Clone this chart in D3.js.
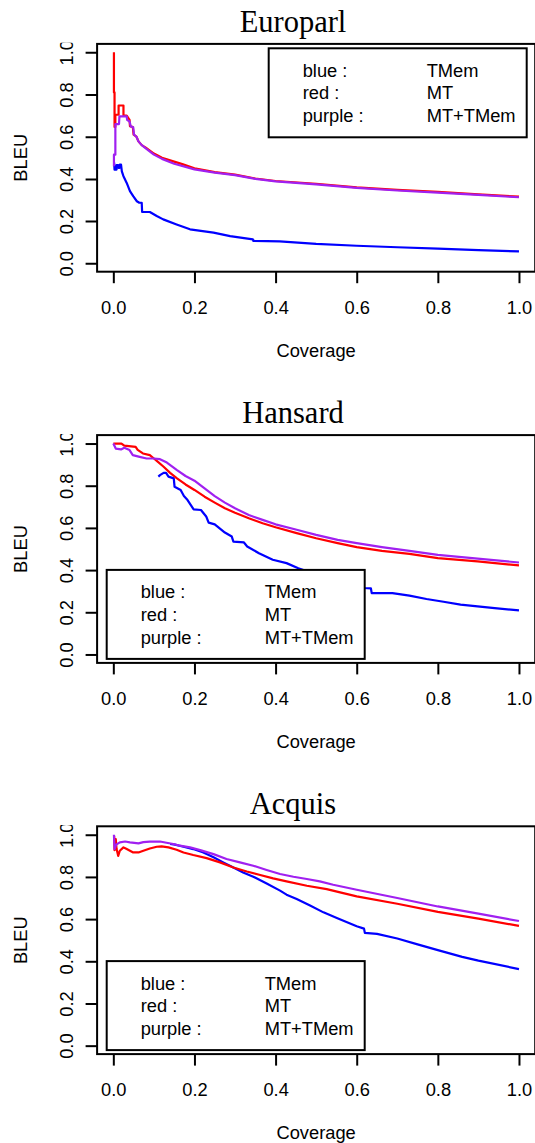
<!DOCTYPE html>
<meta charset="utf-8">
<html>
<head>
  <title>BLEU vs Coverage</title>
  <style>
    body { margin: 0; background: #fff; }
    svg { display: block; }
    .axis text, .lab, .legend text {
      font-family: 'Liberation Sans', Arial, Helvetica, sans-serif;
      font-size: 18.3px;
      fill: #000;
    }
    .title {
      font-family: 'Liberation Serif', 'Times New Roman', serif;
      font-size: 30.5px;
      fill: #000;
    }
    .line { fill: none; stroke-width: 2.2px; stroke-linejoin: round; }
  </style>
  <script src="https://d3js.org/d3.v7.min.js"></script>
</head>
<body>
  <svg width="535" height="1143"></svg>
  <script>
    // ---- data: [coverage, BLEU] ----
    var panelTitles = ["Europarl", "Hansard", "Acquis"];
    var xTicks = [0, 0.2, 0.4, 0.6, 0.8, 1.0];
    var yTicks = [0, 0.2, 0.4, 0.6, 0.8, 1.0];
    var legendNames = ["blue :", "red :", "purple :"];
    var legendSystems = ["TMem", "MT", "MT+TMem"];
    var seriesColors = ["#0000ff", "#ff0000", "#a020f0"];
    var legendCorner = ["topright", "bottomleft", "bottomleft"];

    var europarlTMem = [[0.0015,0.476],[0.002,0.476],[0.003,0.444],[0.008,0.444],[0.008,0.465],[0.012,0.465],[0.013,0.452],[0.015,0.452],[0.016,0.468],[0.019,0.468],[0.021,0.436],[0.025,0.413],[0.033,0.381],[0.041,0.342],[0.049,0.318],[0.058,0.294],[0.064,0.287],[0.070,0.287],[0.071,0.243],[0.09,0.243],[0.107,0.224],[0.123,0.208],[0.156,0.184],[0.189,0.161],[0.247,0.145],[0.288,0.129],[0.344,0.113],[0.345,0.106],[0.41,0.104],[0.5,0.092],[0.6,0.083],[0.7,0.076],[0.8,0.069],[0.9,0.062],[1.0,0.056]];
    var europarlMT = [[0.0015,1.0],[0.0015,0.81],[0.003,0.81],[0.003,0.646],[0.005,0.646],[0.005,0.704],[0.013,0.704],[0.013,0.748],[0.025,0.748],[0.025,0.70],[0.033,0.70],[0.040,0.68],[0.041,0.65],[0.048,0.646],[0.050,0.61],[0.057,0.60],[0.062,0.578],[0.07,0.56],[0.08,0.548],[0.1,0.52],[0.12,0.50],[0.15,0.482],[0.17,0.47],[0.2,0.45],[0.25,0.432],[0.3,0.42],[0.35,0.402],[0.4,0.39],[0.5,0.377],[0.6,0.36],[0.7,0.348],[0.8,0.338],[0.9,0.327],[1.0,0.316]];
    var europarlMix = [[0.0015,0.46],[0.0015,0.515],[0.005,0.515],[0.005,0.66],[0.014,0.66],[0.015,0.696],[0.033,0.696],[0.034,0.68],[0.040,0.672],[0.043,0.649],[0.049,0.645],[0.051,0.61],[0.057,0.60],[0.062,0.578],[0.07,0.56],[0.08,0.545],[0.1,0.515],[0.12,0.495],[0.15,0.472],[0.2,0.445],[0.25,0.43],[0.3,0.418],[0.35,0.40],[0.4,0.388],[0.5,0.374],[0.6,0.357],[0.7,0.345],[0.8,0.335],[0.9,0.324],[1.0,0.313]];

    var hansardTMem = [[0.111,0.843],[0.115,0.85],[0.124,0.861],[0.13,0.861],[0.136,0.843],[0.149,0.835],[0.151,0.795],[0.166,0.78],[0.174,0.751],[0.183,0.732],[0.198,0.688],[0.216,0.685],[0.229,0.654],[0.235,0.625],[0.25,0.617],[0.275,0.578],[0.292,0.559],[0.296,0.535],[0.322,0.531],[0.33,0.512],[0.359,0.48],[0.393,0.449],[0.427,0.433],[0.456,0.409],[0.5,0.38],[0.55,0.35],[0.6,0.32],[0.618,0.315],[0.635,0.313],[0.637,0.291],[0.688,0.291],[0.73,0.279],[0.772,0.263],[0.814,0.25],[0.856,0.236],[0.898,0.228],[0.94,0.22],[1.0,0.209]];
    var hansardMT = [[0,1.0],[0.02,1.0],[0.027,0.99],[0.055,0.984],[0.06,0.97],[0.073,0.953],[0.09,0.945],[0.1,0.929],[0.11,0.913],[0.124,0.89],[0.14,0.861],[0.157,0.835],[0.178,0.806],[0.2,0.78],[0.225,0.748],[0.25,0.72],[0.275,0.693],[0.3,0.672],[0.334,0.646],[0.368,0.622],[0.4,0.603],[0.452,0.575],[0.5,0.551],[0.553,0.528],[0.6,0.509],[0.662,0.491],[0.73,0.477],[0.8,0.457],[0.898,0.441],[1.0,0.422]];
    var hansardMix = [[0,1.0],[0.006,0.976],[0.019,0.972],[0.027,0.98],[0.04,0.969],[0.048,0.945],[0.065,0.937],[0.082,0.929],[0.1,0.929],[0.115,0.926],[0.132,0.91],[0.157,0.874],[0.178,0.846],[0.2,0.824],[0.225,0.787],[0.25,0.751],[0.275,0.72],[0.3,0.693],[0.334,0.661],[0.368,0.638],[0.4,0.617],[0.452,0.591],[0.5,0.567],[0.553,0.543],[0.6,0.528],[0.662,0.509],[0.73,0.491],[0.8,0.472],[0.898,0.454],[1.0,0.436]];

    var acquisTMem = [[0.14,0.956],[0.152,0.953],[0.173,0.943],[0.197,0.932],[0.222,0.916],[0.247,0.893],[0.271,0.869],[0.296,0.845],[0.32,0.821],[0.345,0.801],[0.378,0.769],[0.411,0.735],[0.427,0.716],[0.452,0.695],[0.485,0.664],[0.518,0.632],[0.551,0.605],[0.6,0.566],[0.618,0.555],[0.62,0.535],[0.65,0.53],[0.7,0.508],[0.75,0.48],[0.8,0.453],[0.86,0.421],[0.9,0.403],[1.0,0.363]];
    var acquisMT = [[0.002,0.995],[0.003,0.927],[0.006,0.979],[0.008,0.932],[0.012,0.90],[0.016,0.924],[0.025,0.94],[0.033,0.932],[0.041,0.924],[0.049,0.916],[0.062,0.916],[0.074,0.924],[0.09,0.935],[0.107,0.943],[0.119,0.945],[0.136,0.94],[0.156,0.929],[0.173,0.916],[0.197,0.904],[0.23,0.889],[0.263,0.869],[0.296,0.845],[0.329,0.826],[0.362,0.809],[0.394,0.793],[0.427,0.779],[0.477,0.758],[0.526,0.742],[0.559,0.727],[0.6,0.708],[0.7,0.673],[0.8,0.634],[0.9,0.602],[1.0,0.568]];
    var acquisMix = [[0.0015,1.0],[0.003,0.932],[0.007,0.953],[0.016,0.964],[0.029,0.968],[0.041,0.964],[0.062,0.959],[0.074,0.965],[0.09,0.967],[0.115,0.968],[0.131,0.962],[0.148,0.956],[0.164,0.948],[0.189,0.94],[0.214,0.927],[0.247,0.908],[0.279,0.885],[0.312,0.869],[0.345,0.853],[0.378,0.833],[0.411,0.814],[0.444,0.801],[0.477,0.79],[0.509,0.779],[0.542,0.763],[0.6,0.739],[0.7,0.70],[0.8,0.66],[0.9,0.626],[1.0,0.591]];

    // one entry per panel, series in drawing order: TMem, MT, MT+TMem
    var panelSeries = [
      [europarlTMem, europarlMT, europarlMix],
      [hansardTMem, hansardMT, hansardMix],
      [acquisTMem, acquisMT, acquisMix]
    ];

    // ---- layout (panel-local pixels) ----
    var panelH = 391.2;
    var box = {left: 97.1, right: 535.2, top: 43.9, bottom: 271.7};
    var legendW = 258, legendH = 89;

    var svg = d3.select("svg");

    // R style: data range padded by 4% on each side
    var x = d3.scaleLinear().domain([-0.04, 1.04]).range([box.left, box.right]);
    var y = d3.scaleLinear().domain([-0.04, 1.04]).range([box.bottom, box.top]);
    var fmt = d3.format(".1f");

    var line = d3.line()
      .x(function(d) { return x(d[0]); })
      .y(function(d) { return y(d[1]); });

    // clip so the top "1.0" label gets cut like in the original
    svg.append("defs").append("clipPath")
        .attr("id", "ylabclip")
      .append("rect")
        .attr("x", 0).attr("y", box.top - 1.2)
        .attr("width", box.left).attr("height", 400);

    panelTitles.forEach(function(title, p) {
      var g = svg.append("g")
          .attr("transform", "translate(0," + (p * panelH) + ")");

      // lines
      panelSeries[p].forEach(function(pts, i) {
        g.append("path")
          .attr("class", "line")
          .attr("d", line(pts))
          .style("stroke", seriesColors[i]);
      });

      // x axis
      var xa = g.append("g")
          .attr("class", "axis")
          .attr("transform", "translate(0," + box.bottom + ")")
          .call(d3.axisBottom(x).tickValues(xTicks).tickFormat(fmt).tickSizeInner(11.5).tickSizeOuter(0));
      xa.select(".domain").remove();
      xa.selectAll("line").attr("stroke", "#000").attr("stroke-width", 2);
      xa.selectAll("text").attr("y", 42.3).attr("dy", null);

      // y axis, labels rotated and clipped at top
      var yWrap = g.append("g").attr("clip-path", "url(#ylabclip)");
      var ya = yWrap.append("g")
          .attr("class", "axis")
          .attr("transform", "translate(" + box.left + ",0)")
          .call(d3.axisLeft(y).tickValues(yTicks).tickFormat(fmt).tickSizeInner(11.5).tickSizeOuter(0));
      ya.select(".domain").remove();
      ya.selectAll("line").attr("stroke", "#000").attr("stroke-width", 2);
      ya.selectAll("text")
        .attr("x", 0).attr("dy", null)
        .attr("text-anchor", "middle")
        .attr("transform", "translate(" + (72.5 - box.left) + ",0) rotate(-90)");

      // plot box
      g.append("rect")
        .attr("x", box.left).attr("y", box.top)
        .attr("width", box.right - box.left).attr("height", box.bottom - box.top)
        .attr("fill", "none").attr("stroke", "#000").attr("stroke-width", 2);

      // legend
      var lx, ly;
      if (legendCorner[p] == "topright") {
        lx = box.right - 8.5 - legendW;
        ly = box.top + 4.4;
      } else {
        lx = box.left + 9.6;
        ly = box.bottom - 4 - legendH;
      }
      var lg = g.append("g").attr("class", "legend");
      lg.append("rect")
        .attr("x", lx).attr("y", ly)
        .attr("width", legendW).attr("height", legendH)
        .attr("fill", "#fff").attr("stroke", "#000").attr("stroke-width", 2);
      legendNames.forEach(function(n, i) {
        lg.append("text").attr("x", lx + 34).attr("y", ly + 28.5 + i * 22.6).text(n);
        lg.append("text").attr("x", lx + 158).attr("y", ly + 28.5 + i * 22.6).text(legendSystems[i]);
      });

      // titles and axis labels
      g.append("text")
        .attr("class", "title")
        .attr("x", 293).attr("y", 31.7)
        .attr("text-anchor", "middle")
        .text(title);
      g.append("text")
        .attr("class", "lab")
        .attr("x", (box.left + box.right) / 2).attr("y", 357)
        .attr("text-anchor", "middle")
        .text("Coverage");
      g.append("text")
        .attr("class", "lab")
        .attr("text-anchor", "middle")
        .attr("transform", "translate(26.5," + ((box.top + box.bottom) / 2) + ") rotate(-90)")
        .text("BLEU");
    });
  </script>
</body>
</html>
